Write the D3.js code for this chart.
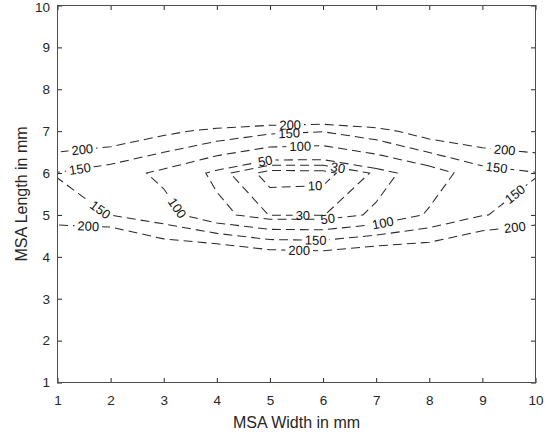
<!DOCTYPE html>
<html lang="en">
<head>
<meta charset="UTF-8">
<title>MSA contour</title>
<script src="https://d3js.org/d3.v7.min.js"></script>
<style>
    body { margin: 0; background: #fff; }
    text { font-family: "Liberation Sans", Arial, Helvetica, sans-serif; }
    .contour { fill: none; stroke: #2a2a2a; stroke-width: 1.05; stroke-dasharray: 9,5; }
    .tick line { stroke: #262626; }
    .tick text { fill: #262626; font-size: 13.5px; }
</style>
</head>
<body>
<svg width="557" height="436"></svg>
<script>
    // grid of the measured surface (x = MSA width, y = MSA length)
    var gridX = [1, 2, 3, 4, 5, 6, 7, 8, 9, 10];
    var gridY = [1, 2, 3, 4, 5, 6, 7, 8, 9, 10];

    // one row per y value, bottom (y = 1) to top (y = 10)
    var zRows = [
        [520, 540, 500, 480, 470, 465, 480, 500, 530, 540],
        [450, 470, 430, 410, 395, 390, 405, 420, 450, 460],
        [380, 400, 350, 340, 320, 315, 330, 340, 370, 385],
        [311, 325, 260, 262, 235, 229, 250, 250, 285, 311],
        [165, 149, 120, 62, 29, 29, 57, 106, 148, 165],
        [148, 125, 88, 40, 0, 2, 34, 74, 130, 148],
        [252, 244, 213, 185, 161, 152, 180, 229, 246, 256],
        [350, 370, 390, 400, 440, 444, 420, 400, 380, 360],
        [430, 450, 470, 480, 510, 515, 500, 480, 460, 440],
        [500, 520, 540, 550, 580, 585, 570, 550, 530, 510]
    ];

    var levels = [10, 30, 50, 100, 150, 200];
    var xTicks = [1, 2, 3, 4, 5, 6, 7, 8, 9, 10];
    var yTicks = [1, 2, 3, 4, 5, 6, 7, 8, 9, 10];

    // where the inline labels sit: [level, x, y]
    var labelSpots = [
        [200, 1.47, 6.52], [150, 1.43, 6.03], [150, 1.85, 5.20], [200, 1.58, 4.74],
        [100, 3.18, 5.10], [50, 4.91, 6.29], [200, 5.38, 7.18], [150, 5.36, 6.98],
        [100, 5.57, 6.66], [30, 6.28, 6.12], [10, 5.85, 5.68], [30, 5.62, 4.99],
        [50, 6.09, 4.90], [100, 7.13, 4.78], [150, 5.86, 4.41], [200, 5.55, 4.15],
        [200, 9.42, 6.55], [150, 9.27, 6.15], [150, 9.61, 5.50], [200, 9.61, 4.72]
    ];

    var svg = d3.select("svg"),
        margin = {top: 5, right: 21, bottom: 53, left: 57},
        width = +svg.attr("width") - margin.left - margin.right,
        height = +svg.attr("height") - margin.top - margin.bottom;

    var x = d3.scaleLinear().domain([1, 10]).range([0.5, width - 0.5]),
        y = d3.scaleLinear().domain([1, 10]).range([height - 0.5, 0.5]);

    var g = svg.append("g").attr("transform", "translate(" + margin.left + "," + margin.top + ")");
    var defs = svg.append("defs");

    defs.append("clipPath").attr("id", "plotclip")
        .append("rect").attr("x", 0.5).attr("y", 0.5)
        .attr("width", width - 1).attr("height", height - 1);

    // contours on the grid (d3 puts sample i at i + 0.5)
    var values = [];
    zRows.forEach(function (row) { row.forEach(function (v) { values.push(v); }); });
    var contours = d3.contours().size([gridX.length, gridY.length]).thresholds(levels)(values);

    var stepX = gridX[1] - gridX[0], stepY = gridY[1] - gridY[0];
    function toPx(p) {
        return [x(gridX[0] + (p[0] - 0.5) * stepX), y(gridY[0] + (p[1] - 0.5) * stepY)];
    }

    var ringsByLevel = {};
    contours.forEach(function (c) {
        var rings = [];
        c.coordinates.forEach(function (poly) {
            poly.forEach(function (ring) { rings.push(ring.map(toPx)); });
        });
        ringsByLevel[c.value] = rings;
    });

    // snap a label onto its line and take the line's direction there
    function placeLabel(level, px, py) {
        var best = null;
        var inside = function (p) { return p[0] >= 0 && p[0] <= width && p[1] >= 0 && p[1] <= height; };
        ringsByLevel[level].forEach(function (ring) {
            for (var i = 0; i < ring.length - 1; i++) {
                var a = ring[i], b = ring[i + 1];
                if (!inside(a) || !inside(b)) continue;
                var dx = b[0] - a[0], dy = b[1] - a[1], len2 = dx * dx + dy * dy;
                if (len2 === 0) continue;
                var t = Math.max(0, Math.min(1, ((px - a[0]) * dx + (py - a[1]) * dy) / len2));
                var qx = a[0] + t * dx, qy = a[1] + t * dy;
                var d = (qx - px) * (qx - px) + (qy - py) * (qy - py);
                if (!best || d < best.d) {
                    var ang = Math.atan2(dy, dx) * 180 / Math.PI;
                    if (ang > 90) ang -= 180;
                    if (ang < -90) ang += 180;
                    best = {d: d, x: qx, y: qy, a: ang};
                }
            }
        });
        return best || {x: px, y: py, a: 0};
    }

    // label layer first, so the text can be measured for the line gaps
    var labelLayer = g.append("g");
    var placed = labelSpots.map(function (s) {
        var p = placeLabel(s[0], x(s[1]), y(s[2]));
        var lg = labelLayer.append("g")
            .attr("transform", "translate(" + p.x + "," + p.y + ") rotate(" + p.a + ")");
        var t = lg.append("text")
            .attr("text-anchor", "middle")
            .attr("dy", "0.35em")
            .attr("font-size", "13px")
            .attr("fill", "#111")
            .text(s[0]);
        return {level: s[0], p: p, w: t.node().getComputedTextLength()};
    });

    // masks cut the gaps where each level's labels sit
    levels.forEach(function (lv, i) {
        var m = defs.append("mask").attr("id", "gap" + i)
            .attr("maskUnits", "userSpaceOnUse")
            .attr("x", -50).attr("y", -50).attr("width", width + 100).attr("height", height + 100);
        m.append("rect").attr("x", -50).attr("y", -50)
            .attr("width", width + 100).attr("height", height + 100).attr("fill", "white");
        placed.filter(function (d) { return d.level === lv; }).forEach(function (d) {
            m.append("rect")
                .attr("transform", "translate(" + d.p.x + "," + d.p.y + ") rotate(" + d.p.a + ")")
                .attr("x", -d.w / 2 - 3).attr("y", -6)
                .attr("width", d.w + 6).attr("height", 12)
                .attr("fill", "black");
        });
    });

    var lineLayer = g.insert("g", ":first-child").attr("clip-path", "url(#plotclip)");
    levels.forEach(function (lv, i) {
        var d = ringsByLevel[lv].map(function (ring) {
            return "M" + ring.map(function (p) { return p[0].toFixed(2) + "," + p[1].toFixed(2); }).join("L") + "Z";
        }).join("");
        lineLayer.append("path")
            .attr("class", "contour")
            .attr("mask", "url(#gap" + i + ")")
            .attr("d", d);
    });

    // axes, ticks inside on all four sides
    g.append("g")
        .attr("transform", "translate(0," + height + ")")
        .call(d3.axisBottom(x).tickValues(xTicks).tickSize(-5).tickPadding(12))
        .call(function (a) { a.select(".domain").remove(); });
    g.append("g")
        .call(d3.axisLeft(y).tickValues(yTicks).tickSize(-5).tickPadding(7))
        .call(function (a) { a.select(".domain").remove(); });
    g.append("g")
        .call(d3.axisTop(x).tickValues(xTicks).tickSize(-5).tickFormat(""))
        .call(function (a) { a.select(".domain").remove(); });
    g.append("g")
        .attr("transform", "translate(" + width + ",0)")
        .call(d3.axisRight(y).tickValues(yTicks).tickSize(-5).tickFormat(""))
        .call(function (a) { a.select(".domain").remove(); });

    // keep the top "10" inside the window
    g.selectAll(".tick text").filter(function (d, i, n) {
        return d === 10 && d3.select(n[i].parentNode.parentNode).attr("transform") === null;
    }).attr("dy", "0.45em");

    g.append("rect")
        .attr("x", 0.5).attr("y", 0.5)
        .attr("width", width - 1).attr("height", height - 1)
        .attr("fill", "none").attr("stroke", "#4d4d4d").attr("stroke-width", 1);

    // axis titles
    svg.append("text")
        .attr("x", margin.left + width / 2).attr("y", 428)
        .attr("text-anchor", "middle")
        .attr("font-size", "16px").attr("fill", "#262626")
        .text("MSA Width in mm");
    svg.append("text")
        .attr("transform", "translate(27," + (margin.top + height / 2) + ") rotate(-90)")
        .attr("text-anchor", "middle")
        .attr("font-size", "16px").attr("fill", "#262626")
        .text("MSA Length in mm");
</script>
</body>
</html>
